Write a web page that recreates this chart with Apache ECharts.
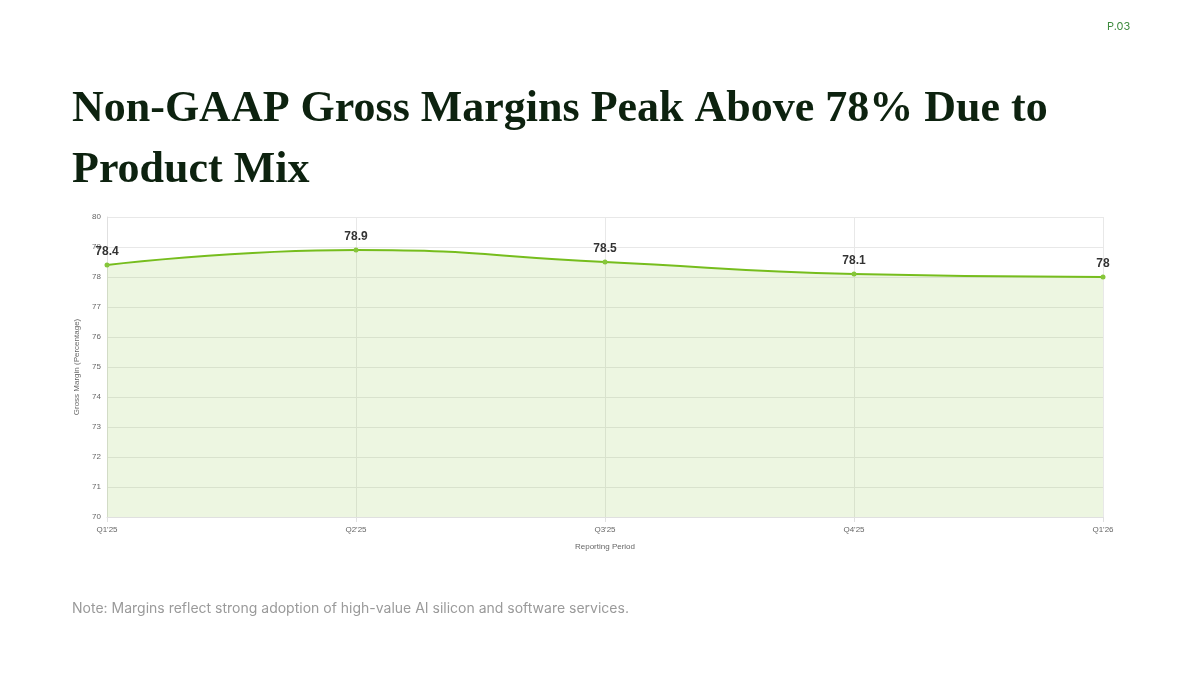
<!DOCTYPE html>
<html>
<head>
<meta charset="utf-8">
<style>
  html, body { margin: 0; padding: 0; background: #fff; }
  #chart { width: 1200px; height: 675px; }
</style>
<script src="https://cdn.jsdelivr.net/npm/echarts@6/dist/echarts.min.js"></script>
</head>
<body>
<div id="chart"></div>
<script>
// reporting periods and margin values (%)
const periods = ["Q1'25", "Q2'25", "Q3'25", "Q4'25", "Q1'26"];
const grossMargin = [78.4, 78.9, 78.5, 78.1, 78.0];
const yTicks = [70, 80, 1]; // min, max, interval

const chart = echarts.init(document.getElementById('chart'));

chart.setOption({
  animation: false,
  backgroundColor: '#ffffff',
  title: [
    {
      text: 'Non-GAAP Gross Margins Peak Above 78% Due to\nProduct Mix',
      left: 67,
      top: 74,
      textStyle: {
        fontFamily: 'Liberation Serif',
        fontWeight: 'bold',
        fontSize: 44,
        lineHeight: 61,
        color: '#0d220f'
      }
    },
    {
      text: 'P.03',
      left: 1102,
      top: 16,
      textStyle: { fontFamily: 'Inter', fontSize: 11, fontWeight: 'normal', color: '#3d8a3d' }
    },
    {
      text: 'Note: Margins reflect strong adoption of high-value AI silicon and software services.',
      left: 67,
      top: 597,
      textStyle: { fontFamily: 'Inter', fontSize: 14, fontWeight: 'normal', color: '#9a9a9a' }
    }
  ],
  grid: { left: 107, right: 97, top: 217, bottom: 158 },
  xAxis: {
    type: 'category',
    data: periods,
    boundaryGap: false,
    name: 'Reporting Period',
    nameLocation: 'middle',
    nameGap: 26,
    nameTextStyle: { fontSize: 8, color: '#666', fontFamily: 'Liberation Sans' },
    axisLine: { lineStyle: { color: '#e0e0e0' } },
    axisTick: { show: true, lineStyle: { color: '#e0e0e0' } },
    axisLabel: { fontSize: 8, color: '#666', margin: 9, fontFamily: 'Liberation Sans' },
    splitLine: { show: true, lineStyle: { color: '#e8e8e8' } }
  },
  yAxis: {
    type: 'value',
    min: yTicks[0],
    max: yTicks[1],
    interval: yTicks[2],
    name: 'Gross Margin (Percentage)',
    nameLocation: 'middle',
    nameGap: 19,
    nameTextStyle: { fontSize: 8, color: '#666', fontFamily: 'Liberation Sans' },
    axisLine: { show: true, lineStyle: { color: '#e0e0e0' } },
    axisTick: { show: false },
    axisLabel: { fontSize: 8, color: '#666', margin: 6, fontFamily: 'Liberation Sans' },
    splitLine: { show: true, lineStyle: { color: '#e8e8e8' } }
  },
  series: [
    {
      type: 'line',
      data: grossMargin,
      smooth: true,
      symbol: 'circle',
      symbolSize: 5,
      lineStyle: { color: '#76bd1d', width: 2 },
      itemStyle: { color: '#86c63a' },
      areaStyle: { color: 'rgba(124, 190, 40, 0.2)' },
      label: {
        show: true,
        position: 'top',
        distance: 5,
        fontSize: 12,
        fontWeight: 'bold',
        color: '#333',
        fontFamily: 'Liberation Sans'
      }
    }
  ]
});
</script>
</body>
</html>
